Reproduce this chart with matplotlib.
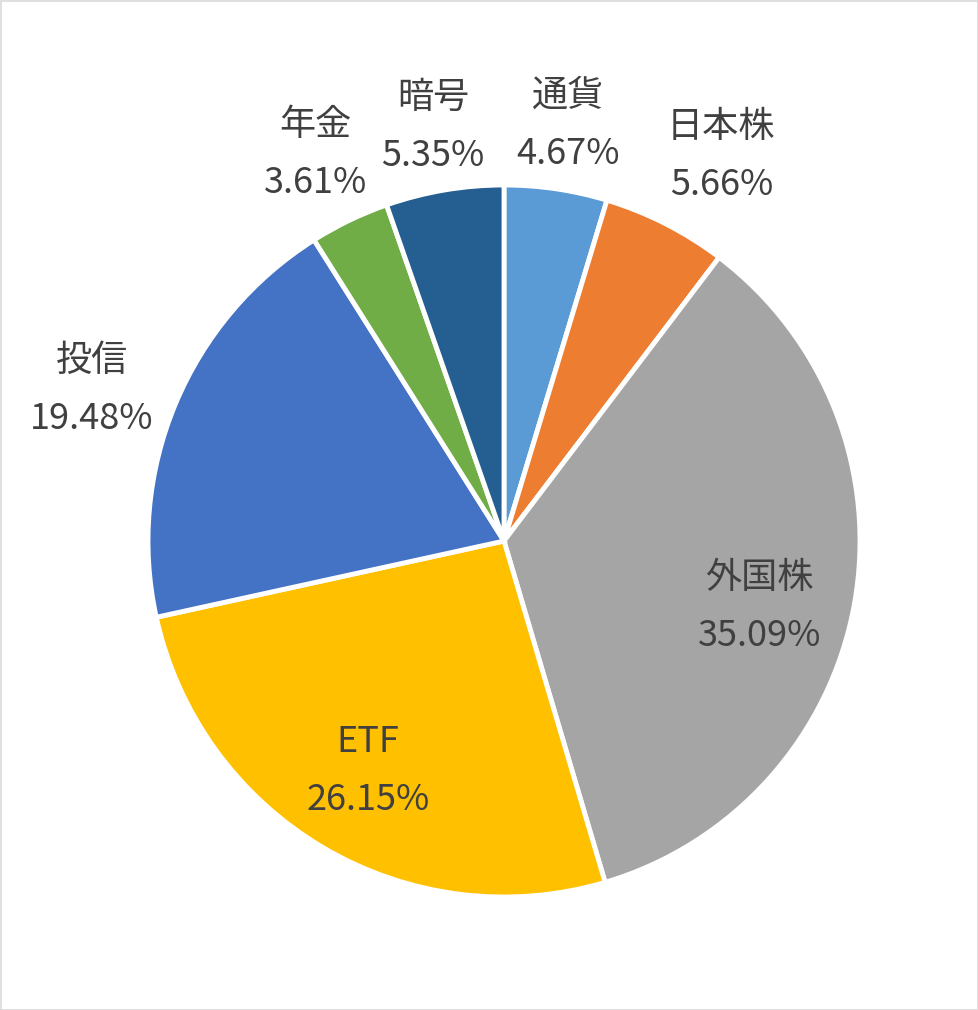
import matplotlib
matplotlib.use("Agg")
import matplotlib.pyplot as plt
import numpy as np

plt.rcParams['font.family'] = ['Noto Sans CJK JP', 'DejaVu Sans']

categories = ['通貨', '日本株', '外国株', 'ETF', '投信', '年金', '暗号']
values = [4.67, 5.66, 35.09, 26.15, 19.48, 3.61, 5.35]
colors = ['#5B9BD5', '#ED7D31', '#A5A5A5', '#FFC000', '#4472C4', '#70AD47', '#255E91']
label_dist = [1.19, 1.245, 0.74, 0.75, 1.24, 1.22, 1.19]
# fine pixel shifts (right, down) of the label blocks
label_shift = [(2, 3), (16, 10), (-4, 19), (0, 0), (-5, 19), (0, 4), (0, 4)]

W, H = 979, 1010
fig = plt.figure(figsize=(W / 100, H / 100), dpi=100)
cx, cy, r = 504, 541, 356
ax = fig.add_axes([(cx - r) / W, (H - cy - r) / H, 2 * r / W, 2 * r / H])

wedges, _ = ax.pie(values, colors=colors, startangle=90, counterclock=False,
                   wedgeprops=dict(edgecolor='white', linewidth=3.5))
ax.set_xlim(-1, 1)
ax.set_ylim(-1, 1)
ax.set_aspect('equal')
ax.axis('off')

for w, cat, v, d, (sx, sy) in zip(wedges, categories, values, label_dist, label_shift):
    ang = np.deg2rad((w.theta1 + w.theta2) / 2)
    x, y = d * np.cos(ang), d * np.sin(ang)
    ax.annotate(f"{cat}\n{v:.2f}%", xy=(x, y), xytext=(sx * 0.72, -sy * 0.72),
                textcoords='offset points', ha='center', va='center', fontsize=26,
                color='#404040', linespacing=1.78, annotation_clip=False)

fig.patches.append(plt.Rectangle((0.5 / W, 0.5 / H), 1 - 1.5 / W, 1 - 1.5 / H,
                                 transform=fig.transFigure, fill=False,
                                 edgecolor='#D9D9D9', linewidth=1.2))

fig.savefig('out.png', dpi=100, facecolor='white')
